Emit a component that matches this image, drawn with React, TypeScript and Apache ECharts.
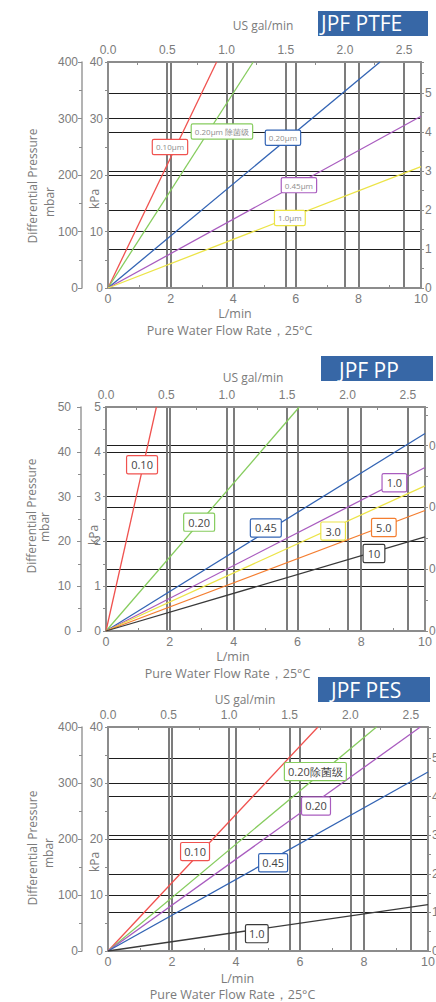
import { useEffect, useRef } from "react";
import * as echarts from "echarts";

// Unit conversions (used for secondary axis ranges)
const L_PER_GAL = 3.78541;
const KPA_PER_PSI = 6.89476;
const MBAR_PER_KPA = 10;

// Flow axis (L/min)
const flowMax = 10;
const flowInterval = 2;

// ---- Panel 1: JPF PTFE (kPa) ----
const ptfeNames = ["0.10μm", "0.20μm 除菌级", "0.20μm", "0.45μm", "1.0μm"];
const ptfeFlowEnd = [3.47, 4.64, 8.69, 10, 10];
const ptfePressEnd = [40, 40, 40, 30.4, 21.5];

// ---- Panel 2: JPF PP (kPa) ----
const ppNames = ["0.10", "0.20", "0.45", "1.0", "3.0", "5.0", "10"];
const ppFlowEnd = [1.58, 6.06, 10, 10, 10, 10, 10];
const ppPressEnd = [5, 5, 4.41, 3.65, 3.24, 2.69, 2.1];

// ---- Panel 3: JPF PES (kPa) ----
const pesNames = ["0.10", "0.20除菌级", "0.20", "0.45", "1.0"];
const pesFlowEnd = [6.56, 8.39, 9.76, 10, 10];
const pesPressEnd = [40, 40, 40, 31.96, 8.29];

const titles = ["JPF PTFE", "JPF PP", "JPF PES"];
const kpaMax = [40, 5, 40];
const kpaInterval = [10, 1, 10];
const psiInterval = [1, 0.2, 1];

// ---- styles / layout ----
const RED = "#f0524f";
const GREEN = "#86cc5e";
const BLUE = "#3364b4";
const PURPLE = "#a95cbf";
const YELLOW = "#ece448";
const ORANGE = "#f47e30";
const BLACK = "#3a3a3a";

const ptfeColors = [RED, GREEN, BLUE, PURPLE, YELLOW];
const ppColors = [RED, GREEN, BLUE, PURPLE, YELLOW, ORANGE, BLACK];
const pesColors = [RED, GREEN, PURPLE, BLUE, BLACK];

const ptfeLabelPos = [[1.98, 24.96], [3.64, 27.7], [5.59, 26.6], [6.1, 18.2], [5.81, 12.4]];
const ppLabelPos = [[1.13, 3.71], [2.92, 2.43], [5.01, 2.3], [9.04, 3.31], [7.12, 2.23], [8.71, 2.31], [8.4, 1.73]];
const pesLabelPos = [[2.72, 17.75], [6.48, 32.04], [6.5, 25.9], [5.16, 15.75], [4.65, 3.1]];

const grids = [
  { left: 108, top: 62, width: 313, height: 226, outerBoundsMode: "none", containLabel: false },
  { left: 106, top: 407, width: 319, height: 224, outerBoundsMode: "none", containLabel: false },
  { left: 108, top: 727, width: 320, height: 224, outerBoundsMode: "none", containLabel: false },
];

const layout = [
  { box: [318, 11, 110, 25], titleX: 321, titleY: 23, gal: [263, 25], lmin: [235, 313.5], pure: [229.5, 330], diff: [32, 186], mbar: [49, 202], kpa: [94, 199], mbarOffset: 26, mbarMargin: 4 },
  { box: [321, 356, 112, 25], titleX: 339, titleY: 369.5, gal: [253, 377.5], lmin: [233, 656.5], pure: [227.5, 673], diff: [31, 516], mbar: [44, 527], kpa: [93, 535], mbarOffset: 25, mbarMargin: 10 },
  { box: [318, 677, 112, 25], titleX: 331, titleY: 690, gal: [245, 699], lmin: [237.5, 978], pure: [232.5, 994.5], diff: [32, 848], mbar: [48, 853], kpa: [94, 862], mbarOffset: 26, mbarMargin: 4 },
];

const AX = "#8c8c8c";
const TXT = "#7b7b7b";
const NUM_FONT = "Liberation Sans";
const TXT_FONT = "Open Sans";
const VLINE = "#6e6e6e";
const HLINE = "#1e1e1e";

function fmt1(v: number) {
  return v.toFixed(1);
}

function buildOption() {
  const xAxis: any[] = [];
  const yAxis: any[] = [];
  const series: any[] = [];
  const graphic: any[] = [];

  const panels = [
    { names: ptfeNames, fe: ptfeFlowEnd, pe: ptfePressEnd, colors: ptfeColors, lp: ptfeLabelPos, lfs: 8, lcol: "#8e8e8e", pad: [2, 3] },
    { names: ppNames, fe: ppFlowEnd, pe: ppPressEnd, colors: ppColors, lp: ppLabelPos, lfs: 11, lcol: "#444", pad: [2, 4] },
    { names: pesNames, fe: pesFlowEnd, pe: pesPressEnd, colors: pesColors, lp: pesLabelPos, lfs: 11, lcol: "#444", pad: [2, 3] },
  ];

  panels.forEach((p, i) => {
    const L = layout[i];
    // bottom L/min axis
    xAxis.push({
      gridIndex: i, type: "value", position: "bottom", min: 0, max: flowMax, interval: flowInterval,
      axisLine: { show: true, onZero: false, lineStyle: { color: AX, width: 2 } },
      axisTick: { show: false, inside: true },
      minorTick: { show: true, splitNumber: 2, length: 3, lineStyle: { color: AX } },
      axisLabel: { color: TXT, fontSize: 12.5, fontFamily: NUM_FONT, margin: 4 },
      splitLine: { show: true, lineStyle: { color: VLINE, width: 1.8 } },
    });
    // top US gal/min axis
    xAxis.push({
      gridIndex: i, type: "value", position: "top", min: 0, max: flowMax / L_PER_GAL, interval: 0.5,
      axisLine: { show: true, onZero: false, lineStyle: { color: AX, width: 2 } },
      axisTick: { show: false, inside: true },
      minorTick: { show: true, splitNumber: 2, length: 3, lineStyle: { color: AX } },
      axisLabel: { color: TXT, fontSize: 12, fontFamily: NUM_FONT, margin: 6, formatter: fmt1, showMaxLabel: false },
      splitLine: { show: true, lineStyle: { color: VLINE, width: 1.8 } },
    });
    // kPa inner axis
    yAxis.push({
      gridIndex: i, type: "value", position: "left", min: 0, max: kpaMax[i], interval: kpaInterval[i],
      axisLine: { show: true, onZero: false, lineStyle: { color: AX, width: 2 } },
      axisTick: { show: true, length: 3, lineStyle: { color: AX } },
      minorTick: { show: true, splitNumber: 2, length: 3, lineStyle: { color: AX } },
      axisLabel: { color: TXT, fontSize: 12, fontFamily: NUM_FONT, margin: 5 },
      splitLine: { show: true, lineStyle: { color: HLINE, width: 1 } },
    });
    // mbar outer axis
    yAxis.push({
      gridIndex: i, type: "value", position: "left", offset: L.mbarOffset, min: 0, max: kpaMax[i] * MBAR_PER_KPA, interval: kpaInterval[i] * MBAR_PER_KPA,
      axisLine: { show: true, onZero: false, lineStyle: { color: "#9a9a9a", width: 1.5 } },
      axisTick: { show: true, length: 4, lineStyle: { color: AX } },
      minorTick: { show: true, splitNumber: 2, length: 3, lineStyle: { color: AX } },
      axisLabel: { color: TXT, fontSize: 12, fontFamily: NUM_FONT, margin: L.mbarMargin },
      splitLine: { show: false },
    });
    // psi right axis
    yAxis.push({
      gridIndex: i, type: "value", position: "right", min: 0, max: kpaMax[i] / KPA_PER_PSI, interval: psiInterval[i],
      axisLine: { show: true, onZero: false, lineStyle: { color: AX, width: 2 } },
      axisTick: { show: true, length: 3, lineStyle: { color: AX } },
      minorTick: { show: true, splitNumber: 2, length: 3, lineStyle: { color: AX } },
      axisLabel: {
        color: TXT, fontSize: 12, fontFamily: NUM_FONT, margin: 4, showMaxLabel: false,
        formatter: (v: number) => (i === 1 ? (v === 0 ? "0" : v.toFixed(1)) : String(Math.round(v))),
      },
      splitLine: { show: true, lineStyle: { color: HLINE, width: 1 } },
    });

    p.names.forEach((name, k) => {
      const c = p.colors[k];
      series.push({
        type: "line", name, xAxisIndex: i * 2, yAxisIndex: i * 3,
        data: [[0, 0], [p.fe[k], p.pe[k]]],
        showSymbol: false, symbol: "none", silent: true, z: 3,
        lineStyle: { color: c, width: 1.3 },
        markPoint: {
          symbol: "rect", symbolSize: 1, silent: true, z: 6,
          itemStyle: { color: "rgba(0,0,0,0)" },
          label: {
            show: true, position: "inside", formatter: "{b}",
            color: p.lcol, fontSize: p.lfs, fontFamily: TXT_FONT,
            backgroundColor: "#ffffff", borderColor: c, borderWidth: 1.2,
            borderRadius: 1, padding: p.pad, lineHeight: p.lfs + 2,
          },
          data: [{ name, coord: p.lp[k] }],
        },
      });
    });

    // decorations / titles
    graphic.push({
      type: "rect", shape: { x: L.box[0], y: L.box[1], width: L.box[2], height: L.box[3] },
      style: { fill: "#3767a6" }, z: 10,
    });
    graphic.push({
      type: "text", x: L.titleX, y: L.titleY, z: 11,
      style: { text: titles[i], fill: "#ffffff", fontSize: 21, fontFamily: TXT_FONT, align: "left", verticalAlign: "middle", textAlign: "left", textVerticalAlign: "middle" },
    });
    const centerText = (t: string, pos: number[], size: number, rot = 0) => ({
      type: "text", x: pos[0], y: pos[1], rotation: rot, z: 10,
      style: { text: t, fill: TXT, fontSize: size, fontFamily: TXT_FONT, align: "center", verticalAlign: "middle", textAlign: "center", textVerticalAlign: "middle" },
    });
    graphic.push(centerText("US gal/min", L.gal, 12));
    graphic.push(centerText("L/min", L.lmin, 12.5));
    graphic.push(centerText("Pure Water Flow Rate，25°C", L.pure, 12.5));
    graphic.push(centerText("Differential Pressure", L.diff, 12, Math.PI / 2));
    graphic.push(centerText("mbar", L.mbar, 12, Math.PI / 2));
    graphic.push(centerText("kPa", L.kpa, 12, Math.PI / 2));
  });

  return {
    animation: false,
    backgroundColor: "#ffffff",
    grid: grids,
    xAxis,
    yAxis,
    series,
    graphic,
  };
}

export default function App() {
  const ref = useRef<HTMLDivElement>(null);
  useEffect(() => {
    document.body.style.margin = "0";
    document.body.style.overflow = "hidden";
    const chart = echarts.init(ref.current!, null, { renderer: "svg" });
    chart.setOption(buildOption() as any);
    return () => chart.dispose();
  }, []);
  return <div ref={ref} style={{ width: 436, height: 1002 }} />;
}
